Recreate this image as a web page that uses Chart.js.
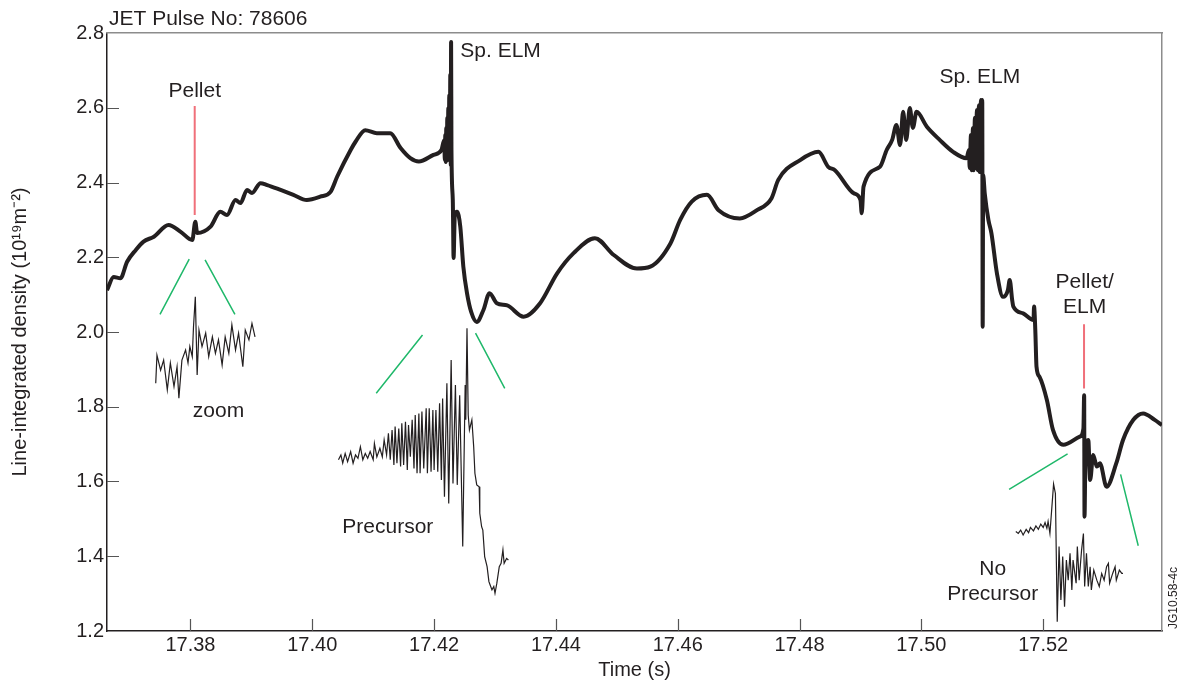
<!DOCTYPE html>
<html>
<head>
<meta charset="utf-8">
<script src="https://cdn.jsdelivr.net/npm/chart.js@4.4.0/dist/chart.umd.min.js"></script>
<style>
  html, body { margin: 0; padding: 0; background: #fff; }
  #wrap { width: 1181px; height: 684px; }
</style>
</head>
<body>
<div id="wrap"><canvas id="densityChart" width="1181" height="684"></canvas></div>
<script>
// JET pulse 78606 - line-integrated density around pellet / ELM events
const INK = "#231f20";
const FONT = "'Liberation Sans', Arial, Helvetica, sans-serif";

// main interferometer trace (time in s, density in 1e19 m^-2)
const mainTime = [
  17.3663, 17.3674, 17.3685, 17.3696, 17.3710, 17.3723, 17.3740, 17.3764, 17.3784, 17.3803,
  17.3808, 17.3811, 17.3833, 17.3849, 17.3860, 17.3874, 17.3882, 17.3893, 17.3901, 17.3915,
  17.3926, 17.3948, 17.3969, 17.3991, 17.4013, 17.4030, 17.4041, 17.4063, 17.4071, 17.4087,
  17.4106, 17.4128, 17.4145, 17.4161, 17.4175, 17.4199, 17.4212,
  17.42167, 17.42176, 17.42184, 17.42192, 17.42200, 17.42208, 17.42217, 17.42225, 17.42233, 17.42241,
  17.42249, 17.42258, 17.42266, 17.42274, 17.42279, 17.42285, 17.42307, 17.42320, 17.42340, 17.42376,
  17.4243, 17.4248, 17.4254, 17.4261, 17.4270, 17.4281, 17.4291, 17.4303, 17.4320, 17.4347,
  17.4374, 17.4402, 17.4429, 17.4464, 17.4495, 17.4533, 17.4555, 17.4588, 17.4604, 17.4623,
  17.4648, 17.4667, 17.4702, 17.4730, 17.4754, 17.4765, 17.4801, 17.4831, 17.4847, 17.4858,
  17.4889, 17.4900, 17.4902, 17.4905, 17.4932, 17.4943, 17.4952, 17.4959, 17.4965, 17.4970,
  17.4975, 17.4981, 17.4986, 17.4992, 17.5009, 17.5030, 17.5052, 17.5074,
  17.50781, 17.50793, 17.50814, 17.50826, 17.50847, 17.50858, 17.50879, 17.50891, 17.50912, 17.50924,
  17.50945, 17.50956, 17.50978, 17.50989, 17.50999, 17.51006, 17.51014,
  17.5104, 17.5110, 17.5115, 17.5124, 17.5134, 17.5142, 17.5145, 17.5149, 17.5151, 17.5167,
  17.5184, 17.5185, 17.5187, 17.5189, 17.5194, 17.5206, 17.5216, 17.5233, 17.5260, 17.5266,
  17.52672, 17.52678, 17.5269, 17.5271, 17.5274, 17.5277, 17.5282, 17.5288, 17.5293, 17.5304,
  17.5320, 17.5331, 17.5348, 17.5364, 17.5383, 17.5395
];
const mainDensity = [
  2.112, 2.147, 2.144, 2.188, 2.219, 2.242, 2.255, 2.286, 2.268, 2.246,
  2.295, 2.265, 2.282, 2.322, 2.313, 2.353, 2.345, 2.380, 2.372, 2.398,
  2.393, 2.380, 2.367, 2.353, 2.362, 2.375, 2.416, 2.487, 2.509, 2.540,
  2.532, 2.532, 2.492, 2.465, 2.456, 2.474, 2.487,
  2.514, 2.460, 2.527, 2.455, 2.546, 2.460, 2.573, 2.460, 2.599, 2.466,
  2.634, 2.460, 2.688, 2.447, 2.776, 2.487, 2.353, 2.198, 2.313, 2.322,
  2.282, 2.175, 2.104, 2.053, 2.027, 2.059, 2.104, 2.077, 2.071, 2.041,
  2.077, 2.157, 2.211, 2.251, 2.206, 2.170, 2.175, 2.237, 2.300, 2.349,
  2.367, 2.326, 2.304, 2.326, 2.358, 2.407, 2.460, 2.482, 2.442, 2.433,
  2.371, 2.353, 2.318, 2.389, 2.442, 2.487, 2.514, 2.554, 2.500, 2.589,
  2.514, 2.599, 2.546, 2.589, 2.549, 2.514, 2.482, 2.465,
  2.487, 2.439, 2.527, 2.433, 2.546, 2.433, 2.573, 2.439, 2.594, 2.433,
  2.607, 2.428, 2.621, 2.428, 2.621, 2.014, 2.420,
  2.371, 2.300, 2.264, 2.157, 2.094, 2.112, 2.139, 2.086, 2.068, 2.050,
  2.032, 2.068, 2.005, 1.907, 1.880, 1.818, 1.738, 1.698, 1.720, 1.742,
  1.831, 1.506, 1.631, 1.693, 1.711, 1.604, 1.671, 1.640, 1.649, 1.586,
  1.649, 1.711, 1.765, 1.782, 1.765, 1.751
];

// inset 1: zoom around the first pellet
const zoomTime = [
  17.3743, 17.3745, 17.3751, 17.3756, 17.3762, 17.3767, 17.3773, 17.3778, 17.3781, 17.3786,
  17.3792, 17.3796, 17.3799, 17.3803, 17.3805, 17.3808, 17.3811, 17.3814, 17.3819, 17.3825,
  17.3830, 17.3836, 17.3841, 17.3846, 17.3852, 17.3857, 17.3863, 17.3868, 17.3874, 17.3879,
  17.3886, 17.3890, 17.3896, 17.3901, 17.3906
];
const zoomDensity = [
  1.863, 1.938, 1.898, 1.925, 1.845, 1.917, 1.854, 1.907, 1.823, 1.925,
  1.952, 1.917, 1.961, 1.934, 2.014, 2.094, 1.885, 2.005, 1.961, 1.997,
  1.934, 1.987, 1.943, 1.979, 1.912, 1.987, 1.943, 2.019, 1.952, 1.997,
  1.907, 2.005, 1.979, 2.023, 1.987
];

// inset 2: precursor oscillation before the first spontaneous ELM
const precursorTime = [
  17.4043, 17.4047, 17.4050, 17.4054, 17.4058, 17.4063, 17.4067, 17.4071, 17.4075, 17.4079,
  17.4083, 17.4087, 17.4091, 17.4095, 17.4100, 17.4102, 17.4106, 17.4111, 17.4115, 17.4118,
  17.4122, 17.4125, 17.4128, 17.4131, 17.4134, 17.4136, 17.4139, 17.4142, 17.4145, 17.4147,
  17.4150, 17.4153, 17.4156, 17.4158, 17.4161, 17.4164, 17.4167, 17.4169, 17.4172, 17.4175,
  17.4177, 17.4180, 17.4183, 17.4187, 17.4189, 17.4192, 17.4195, 17.4198, 17.4200, 17.4203,
  17.4206, 17.4209, 17.4212, 17.4214, 17.4217, 17.4221, 17.4224, 17.4228, 17.4231, 17.4235,
  17.4238, 17.4242, 17.4247, 17.4251, 17.4252, 17.4254, 17.4256, 17.4258, 17.4262, 17.4265,
  17.4267, 17.4270, 17.4274, 17.4275, 17.4278, 17.4280, 17.4283, 17.4287, 17.4290, 17.4292,
  17.4295, 17.4298, 17.4300, 17.4303, 17.4307, 17.4310, 17.4313, 17.4315, 17.4319, 17.4322
];
const precursorDensity = [
  1.658, 1.671, 1.649, 1.675, 1.653, 1.680, 1.649, 1.671, 1.662, 1.693,
  1.658, 1.675, 1.662, 1.680, 1.658, 1.702, 1.666, 1.689, 1.666, 1.711,
  1.671, 1.729, 1.658, 1.738, 1.644, 1.747, 1.649, 1.742, 1.640, 1.756,
  1.644, 1.760, 1.631, 1.751, 1.666, 1.765, 1.635, 1.778, 1.622, 1.782,
  1.622, 1.787, 1.635, 1.796, 1.622, 1.796, 1.626, 1.791, 1.631, 1.791,
  1.626, 1.809, 1.604, 1.822, 1.559, 1.863, 1.541, 1.925, 1.595, 1.858,
  1.591, 1.831, 1.426, 1.858, 1.765, 2.010, 1.778, 1.738, 1.765, 1.693,
  1.622, 1.591, 1.586, 1.515, 1.479, 1.470, 1.399, 1.372, 1.332, 1.323,
  1.310, 1.319, 1.301, 1.328, 1.372, 1.381, 1.417, 1.381, 1.394, 1.390
];

// inset 3: pellet-triggered ELM, no precursor
const noPrecursorTime = [
  17.5155, 17.5159, 17.5163, 17.5167, 17.5172, 17.5176, 17.5179, 17.5184, 17.5188, 17.5192,
  17.5196, 17.5200, 17.5203, 17.5206, 17.5208, 17.5211, 17.5217, 17.5220, 17.5223, 17.5226,
  17.5229, 17.5232, 17.5235, 17.5238, 17.5241, 17.5244, 17.5247, 17.5249, 17.5254, 17.5256,
  17.5259, 17.5263, 17.5266, 17.5268, 17.5271, 17.5274, 17.5277, 17.5279, 17.5283, 17.5288,
  17.5292, 17.5296, 17.5300, 17.5304, 17.5307, 17.5309, 17.5314, 17.5318, 17.5320, 17.5325,
  17.5329, 17.5331
];
const noPrecursorDensity = [
  1.466, 1.461, 1.470, 1.457, 1.472, 1.463, 1.477, 1.468, 1.481, 1.472,
  1.486, 1.477, 1.490, 1.475, 1.493, 1.461, 1.593, 1.568, 1.225, 1.426,
  1.283, 1.399, 1.265, 1.390, 1.336, 1.408, 1.310, 1.390, 1.328, 1.426,
  1.336, 1.417, 1.461, 1.319, 1.408, 1.319, 1.372, 1.310, 1.363, 1.336,
  1.319, 1.354, 1.336, 1.372, 1.381, 1.328, 1.354, 1.372, 1.336, 1.363,
  1.354, 1.354
];

// green guide lines linking trace to insets: [t1, v1, t2, v2]
const guideLines = [
  [17.3750, 2.047, 17.3798, 2.195],
  [17.3824, 2.193, 17.3873, 2.047],
  [17.4105, 1.836, 17.4181, 1.992],
  [17.4268, 1.997, 17.4316, 1.849],
  [17.5144, 1.579, 17.5240, 1.674],
  [17.5327, 1.619, 17.5356, 1.428]
];
// red pellet markers
const pelletLines = [
  [17.3807, 2.605, 17.3807, 2.313],
  [17.5267, 2.021, 17.5267, 1.849]
];

// axis ticks
const xTicks = [17.38, 17.40, 17.42, 17.44, 17.46, 17.48, 17.50, 17.52];
const yTicks = [1.2, 1.4, 1.6, 1.8, 2.0, 2.2, 2.4, 2.6, 2.8];

// text labels: [t, v (baseline), text, align]
const labels = [
  [17.3807, 2.628, "Pellet", "center"],
  [17.4243, 2.736, "Sp. ELM", "left"],
  [17.5096, 2.666, "Sp. ELM", "center"],
  [17.5268, 2.118, "Pellet/", "center"],
  [17.5268, 2.051, "ELM", "center"],
  [17.3846, 1.773, "zoom", "center"],
  [17.4124, 1.462, "Precursor", "center"],
  [17.5117, 1.350, "No", "center"],
  [17.5117, 1.283, "Precursor", "center"]
];

const zip = (xs, ys) => xs.map((x, i) => ({ x: x, y: ys[i] }));
const segments = (list) => {
  const pts = [];
  list.forEach((s) => {
    pts.push({ x: s[0], y: s[1] }, { x: s[2], y: s[3] }, { x: s[2], y: null });
  });
  return pts;
};

// inward tick marks and free text
const decorations = {
  id: "decorations",
  beforeDatasetsDraw(chart) {
    const { ctx, chartArea, scales } = chart;
    ctx.save();
    ctx.strokeStyle = "#555";
    ctx.lineWidth = 1.2;
    ctx.beginPath();
    xTicks.forEach((t) => {
      const px = Math.round(scales.x.getPixelForValue(t)) + 0.5;
      ctx.moveTo(px, chartArea.bottom);
      ctx.lineTo(px, chartArea.bottom - 12);
    });
    yTicks.slice(1, -1).forEach((v) => {
      const py = Math.round(scales.y.getPixelForValue(v)) + 0.5;
      ctx.moveTo(chartArea.left, py);
      ctx.lineTo(chartArea.left + 12, py);
    });
    ctx.stroke();
    ctx.restore();
  },
  afterDraw(chart) {
    const { ctx, chartArea, scales } = chart;
    ctx.save();
    ctx.fillStyle = INK;
    ctx.textBaseline = "alphabetic";
    ctx.font = "21px " + FONT;
    labels.forEach((l) => {
      ctx.textAlign = l[3];
      ctx.fillText(l[2], scales.x.getPixelForValue(l[0]), scales.y.getPixelForValue(l[1]));
    });
    ctx.textAlign = "left";
    ctx.fillText("JET Pulse No: 78606", chartArea.left + 2, 25);

    ctx.font = "12px " + FONT;
    ctx.translate(chartArea.right + 15, 598);
    ctx.rotate(-Math.PI / 2);
    ctx.textAlign = "center";
    ctx.fillText("JG10.58-4c", 0, 0);
    ctx.restore();
  }
};

const thinTrace = (data) => ({
  data: data,
  borderColor: INK,
  borderWidth: 1.2,
  pointRadius: 0,
  tension: 0
});

const ctx = document.getElementById("densityChart").getContext("2d");
const densityChart = new Chart(ctx, {
  type: "line",
  data: {
    datasets: [
      {
        data: zip(mainTime, mainDensity),
        borderColor: INK,
        borderWidth: 4,
        borderJoinStyle: "round",
        cubicInterpolationMode: "monotone",
        pointRadius: 0
      },
      thinTrace(zip(zoomTime, zoomDensity)),
      thinTrace(zip(precursorTime, precursorDensity)),
      thinTrace(zip(noPrecursorTime, noPrecursorDensity)),
      {
        data: segments(guideLines),
        borderColor: "#1fb86a",
        borderWidth: 1.5,
        pointRadius: 0,
        spanGaps: false
      },
      {
        data: segments(pelletLines),
        borderColor: "#f0707a",
        borderWidth: 2,
        pointRadius: 0,
        spanGaps: false
      }
    ]
  },
  options: {
    responsive: false,
    animation: false,
    devicePixelRatio: 1,
    layout: { padding: { top: 33, right: 19, left: 0, bottom: 0 } },
    plugins: {
      legend: { display: false },
      tooltip: { enabled: false }
    },
    scales: {
      x: {
        type: "linear",
        min: 17.3663,
        max: 17.5395,
        afterBuildTicks: (scale) => {
          scale.ticks = xTicks.map((v) => ({ value: v }));
        },
        afterFit: (scale) => {
          scale.height = 53;
        },
        grid: { display: false, drawTicks: false },
        border: { display: true, color: INK, width: 1.5 },
        ticks: {
          padding: 2,
          color: INK,
          maxRotation: 0,
          autoSkip: false,
          font: { family: FONT, size: 20 },
          callback: (v) => Number(v).toFixed(2)
        },
        title: {
          display: true,
          text: "Time (s)",
          color: INK,
          font: { family: FONT, size: 20 },
          padding: { top: 0, bottom: 2 }
        }
      },
      y: {
        type: "linear",
        min: 1.2,
        max: 2.8,
        afterBuildTicks: (scale) => {
          scale.ticks = yTicks.map((v) => ({ value: v }));
        },
        afterFit: (scale) => {
          scale.width = 107;
        },
        grid: { display: false, drawTicks: false },
        border: { display: true, color: INK, width: 1.5 },
        ticks: {
          padding: 3,
          color: INK,
          autoSkip: false,
          font: { family: FONT, size: 20 },
          callback: (v) => Number(v).toFixed(1)
        },
        title: {
          display: true,
          text: "Line-integrated density (10\u00b9\u2079m\u207b\u00b2)",
          color: INK,
          font: { family: FONT, size: 20 },
          padding: { top: 8, bottom: 0 }
        }
      },
      xTop: {
        type: "linear",
        position: "top",
        afterFit: (scale) => {
          scale.height = 0;
        },
        grid: { display: false, drawTicks: false },
        ticks: { display: false },
        border: { display: true, color: "#8c8c8c", width: 1.5 }
      },
      yRight: {
        type: "linear",
        position: "right",
        afterFit: (scale) => {
          scale.width = 0;
        },
        grid: { display: false, drawTicks: false },
        ticks: { display: false },
        border: { display: true, color: "#8c8c8c", width: 1.5 }
      }
    }
  },
  plugins: [decorations]
});
</script>
</body>
</html>
